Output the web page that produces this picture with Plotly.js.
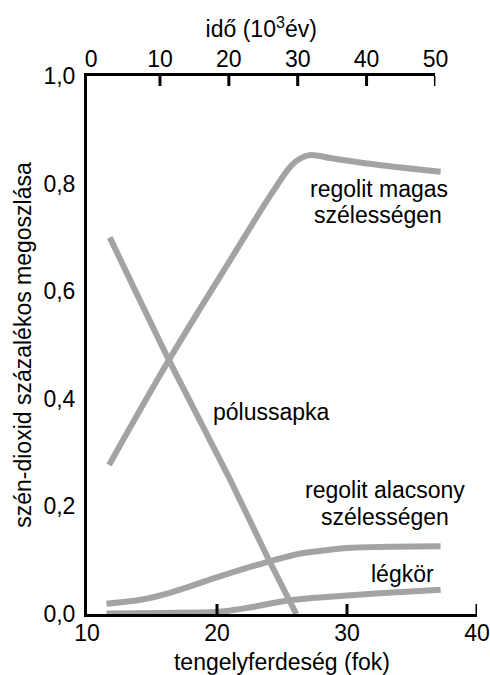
<!DOCTYPE html>
<html>
<head>
<meta charset="utf-8">
<script src="https://cdn.plot.ly/plotly-3.0.1.min.js"></script>
<style>html,body{margin:0;padding:0;background:#fff;}#chart{width:490px;height:675px;}</style>
</head>
<body>
<div id="chart"></div>
<script>
// tengelyferdeség (fok) / szén-dioxid százalékos megoszlása
const magasX = [11.7, 16.3, 21, 24.3, 25.9, 27.1, 28.8, 32.6, 37.2];
const magasY = [0.277, 0.472, 0.657, 0.785, 0.838, 0.853, 0.847, 0.834, 0.822];

const sapkaX = [11.75, 16.3, 20.9, 23.9, 26.1];
const sapkaY = [0.70, 0.472, 0.255, 0.105, 0.0];

const alacsonyX = [11.5, 14, 16.3, 20.1, 23.9, 26.5, 30.3, 33.5, 37.2];
const alacsonyY = [0.019, 0.026, 0.039, 0.069, 0.097, 0.113, 0.123, 0.125, 0.126];

const legkorX = [11.5, 16, 20.2, 22.5, 25.2, 27.5, 30.3, 33.5, 37.2];
const legkorY = [0.001, 0.002, 0.004, 0.012, 0.024, 0.030, 0.035, 0.040, 0.045];

const xTicks = [10, 20, 30, 40];
const x2Ticks = [0, 10, 20, 30, 40, 50];
const yTicks = [0, 0.2, 0.4, 0.6, 0.8, 1.0];

const FONT = '"Liberation Sans", Arial, sans-serif';
const GRAY = '#a3a3a3';

function series(x, y, sm) {
  return {x: x, y: y, type: 'scatter', mode: 'lines',
    line: {color: GRAY, width: 6, shape: 'spline', smoothing: sm},
    hoverinfo: 'skip', showlegend: false};
}

const traces = [
  series(magasX, magasY, 1.0),
  series(sapkaX, sapkaY, 0.6),
  series(alacsonyX, alacsonyY, 0.6),
  series(legkorX, legkorY, 0.6),
  {x: [], y: [], xaxis: 'x2', yaxis: 'y', type: 'scatter', mode: 'lines', showlegend: false, hoverinfo: 'skip'}
];

function label(text, x, y) {
  return {text: text, x: x, y: y, xref: 'x', yref: 'y', showarrow: false,
    xanchor: 'center', yanchor: 'middle', font: {family: FONT, size: 23, color: '#000'}};
}

// inward tick marks, built from the tick arrays
const TICK = 10 / 538;
const tickShapes = xTicks.slice(1).map(v => ({type: 'line', xref: 'x', yref: 'paper',
    x0: v, x1: v, y0: 0, y1: TICK, line: {color: '#000', width: 3}}))
  .concat(x2Ticks.slice(1).map(v => ({type: 'line', xref: 'x2', yref: 'paper',
    x0: v, x1: v, y0: 1, y1: 1 - TICK, line: {color: '#000', width: 3}})));

const layout = {
  width: 490, height: 675,
  margin: {l: 87, r: 13, t: 76, b: 61},
  paper_bgcolor: '#fff', plot_bgcolor: 'rgba(0,0,0,0)',
  separators: ', ',
  font: {family: FONT, size: 23, color: '#000'},
  showlegend: false,
  xaxis: {
    range: [10, 40], tickvals: xTicks, ticktext: xTicks.map(String),
    showline: true, linecolor: '#000', linewidth: 3, ticks: '',
    showgrid: false, zeroline: false, ticklabelstandoff: -4, ticklabeloverflow: 'allow',
    title: {text: 'tengelyferdeség (fok)', standoff: 10, font: {size: 23}},
    tickfont: {size: 23}, fixedrange: true
  },
  xaxis2: {
    range: [-0.6, 50], domain: [0, 0.8934], anchor: 'y', side: 'top',
    tickvals: x2Ticks, ticktext: x2Ticks.map(String),
    showline: true, linecolor: '#000', linewidth: 3, ticks: '',
    showgrid: false, zeroline: false, ticklabelstandoff: -3, ticklabeloverflow: 'allow',
    title: {text: 'idő (10<sup>3</sup>év)', standoff: 2, font: {size: 23}},
    tickfont: {size: 23}, fixedrange: true
  },
  yaxis: {
    range: [0, 1], tickvals: yTicks, tickformat: '.1f',
    showline: true, linecolor: '#000', linewidth: 3,
    ticks: '', showgrid: false, zeroline: false, ticklabelstandoff: 4,
    title: {text: 'szén-dioxid százalékos megoszlása', standoff: 6, font: {size: 23}},
    tickfont: {size: 23}, fixedrange: true
  },
  shapes: tickShapes,
  annotations: [
    label('regolit magas', 32.45, 0.79),
    label('szélességen', 32.4, 0.742),
    label('pólussapka', 24.17, 0.375),
    label('regolit alacsony', 32.9, 0.23),
    label('szélességen', 32.9, 0.18),
    label('légkör', 34.26, 0.074)
  ]
};

Plotly.newPlot('chart', traces, layout, {displayModeBar: false, staticPlot: true});
</script>
</body>
</html>
